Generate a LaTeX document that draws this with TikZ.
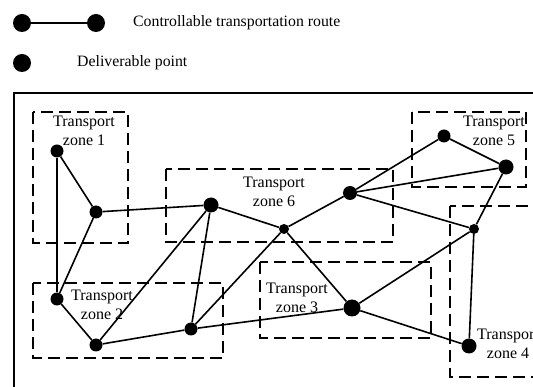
\documentclass[tikz,border=0pt]{standalone}
\usepackage{fontspec}
\setmainfont{Liberation Serif}
\begin{document}
\begin{tikzpicture}[x=1pt,y=-1pt,
  dot/.style={circle,fill=black,draw=none,inner sep=0pt,minimum size=#1},
  dot/.default=12pt,
  route/.style={line width=1.6pt},
  zone/.style={line width=1.7pt,dash pattern=on 12pt off 6pt},
  lbl/.style={font=\fontsize{16}{19.5}\selectfont,align=center,inner sep=0pt},
  legtxt/.style={font=\fontsize{15.8}{19}\selectfont,anchor=west,inner sep=0pt}]
\clip (0,0) rectangle (533,387);
\useasboundingbox (0,0) rectangle (533,387);
% legend
\node[dot=18pt] (l1) at (22,23) {};
\node[dot=18pt] (l2) at (96,23) {};
\draw[route] (l1) -- (l2);
\node[legtxt] (lt1) at (133,23) {Controllable transportation route};
\node[dot=18pt] (l3) at (22,63) {};
\node[legtxt] (lt2) at (77,63) {Deliverable point};
% outer frame
\draw[line width=1.7pt] (560,93) -- (14,93) -- (14,400);
% zones
\draw[zone] (33,112) rectangle (128,243);
\draw[zone] (33,283) rectangle (223,358);
\draw[zone] (166,169) rectangle (393,242);
\draw[zone] (260,262) rectangle (431,338);
\draw[zone] (412,112) rectangle (526,187);
\draw[zone] (450,206) rectangle (570,377);
% zone labels
\node[lbl] (z1) at (84,131) {Transport\\zone 1};
\node[lbl] (z2) at (102,305) {Transport\\zone 2};
\node[lbl] (z3) at (297,298) {Transport\\zone 3};
\node[lbl] (z4) at (508,344) {Transport\\zone 4};
\node[lbl] (z5) at (494,131) {Transport\\zone 5};
\node[lbl] (z6) at (274,192) {Transport\\zone 6};
% points
\node[dot=13pt] (A) at (57,151) {};
\node[dot=13pt] (B) at (96,212) {};
\node[dot=13pt] (C) at (57,299) {};
\node[dot=13pt] (D) at (96,345) {};
\node[dot=15pt] (E) at (211,205) {};
\node[dot=13pt] (F) at (191,329) {};
\node[dot=10pt] (G) at (284,229) {};
\node[dot=14pt] (H) at (350,193) {};
\node[dot=13pt] (I) at (444,136) {};
\node[dot=15pt] (J) at (506,167) {};
\node[dot=10pt] (K) at (474,229) {};
\node[dot=17pt] (L) at (352,308) {};
\node[dot=15pt] (M) at (469,346) {};
% routes
\draw[route] (A) -- (B);
\draw[route] (A) -- (C);
\draw[route] (B) -- (C);
\draw[route] (B) -- (E);
\draw[route] (C) -- (D);
\draw[route] (D) -- (E);
\draw[route] (D) -- (F);
\draw[route] (F) -- (E);
\draw[route] (F) -- (G);
\draw[route] (E) -- (G);
\draw[route] (F) -- (L);
\draw[route] (G) -- (H);
\draw[route] (G) -- (L);
\draw[route] (H) -- (I);
\draw[route] (H) -- (J);
\draw[route] (I) -- (J);
\draw[route] (H) -- (K);
\draw[route] (J) -- (K);
\draw[route] (K) -- (L);
\draw[route] (K) -- (M);
\draw[route] (L) -- (M);
\end{tikzpicture}
\end{document}
